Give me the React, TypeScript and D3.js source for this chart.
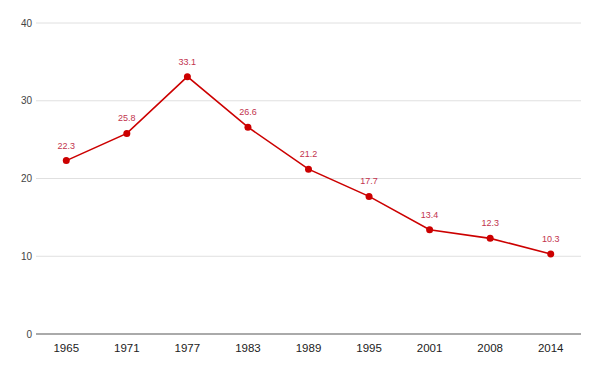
import * as d3 from "d3";
import React, { useEffect, useRef } from "react";

const years = ["1965", "1971", "1977", "1983", "1989", "1995", "2001", "2008", "2014"];
const values = [22.3, 25.8, 33.1, 26.6, 21.2, 17.7, 13.4, 12.3, 10.3];
const yTicks = [0, 10, 20, 30, 40];

const App: React.FC = () => {
  const ref = useRef<SVGSVGElement>(null);

  useEffect(() => {
    const width = 600;
    const height = 371;
    const margin = { top: 23, right: 19, bottom: 37, left: 36 };

    const svg = d3.select(ref.current);
    svg.selectAll("*").remove();
    svg.attr("width", width).attr("height", height);

    const x = d3.scalePoint<string>()
      .domain(years)
      .range([margin.left, width - margin.right])
      .padding(0.5);

    const y = d3.scaleLinear()
      .domain([0, 40])
      .range([height - margin.bottom, margin.top]);

    // Gridlines
    svg.append("g")
      .selectAll("line")
      .data(yTicks.filter((t) => t !== 0))
      .join("line")
      .attr("x1", margin.left)
      .attr("x2", width - margin.right)
      .attr("y1", (d) => y(d))
      .attr("y2", (d) => y(d))
      .attr("stroke", "#e0e0e0")
      .attr("stroke-width", 1);

    // Y tick labels
    svg.append("g")
      .selectAll("text")
      .data(yTicks)
      .join("text")
      .attr("x", margin.left - 4)
      .attr("y", (d) => y(d))
      .attr("dy", "0.35em")
      .attr("text-anchor", "end")
      .style("font-family", "Arial, 'Liberation Sans', sans-serif")
      .style("font-size", "10px")
      .attr("fill", "#444")
      .text((d) => d);

    // Baseline
    svg.append("line")
      .attr("x1", margin.left)
      .attr("x2", width - margin.right)
      .attr("y1", y(0))
      .attr("y2", y(0))
      .attr("stroke", "#aaaaaa")
      .attr("stroke-width", 2);

    // X labels
    svg.append("g")
      .selectAll("text")
      .data(years)
      .join("text")
      .attr("x", (d) => x(d)!)
      .attr("y", y(0) + 18)
      .attr("text-anchor", "middle")
      .style("font-family", "Arial, 'Liberation Sans', sans-serif")
      .style("font-size", "11.5px")
      .attr("fill", "#222")
      .text((d) => d);

    const line = d3.line<number>()
      .x((_, i) => x(years[i])!)
      .y((d) => y(d));

    svg.append("path")
      .datum(values)
      .attr("d", line)
      .attr("fill", "none")
      .attr("stroke", "#cc0000")
      .attr("stroke-width", 1.6);

    svg.append("g")
      .selectAll("circle")
      .data(values)
      .join("circle")
      .attr("cx", (_, i) => x(years[i])!)
      .attr("cy", (d) => y(d))
      .attr("r", 3.5)
      .attr("fill", "#cc0000");

    // Data labels
    svg.append("g")
      .selectAll("text")
      .data(values)
      .join("text")
      .attr("x", (_, i) => x(years[i])!)
      .attr("y", (d) => y(d) - 12)
      .attr("text-anchor", "middle")
      .style("font-family", "Arial, 'Liberation Sans', sans-serif")
      .style("font-size", "9px")
      .attr("fill", "#c2334d")
      .text((d) => d.toFixed(1));
  }, []);

  return <svg ref={ref} style={{ position: "absolute", left: 0, top: 0 }}></svg>;
};

export default App;
